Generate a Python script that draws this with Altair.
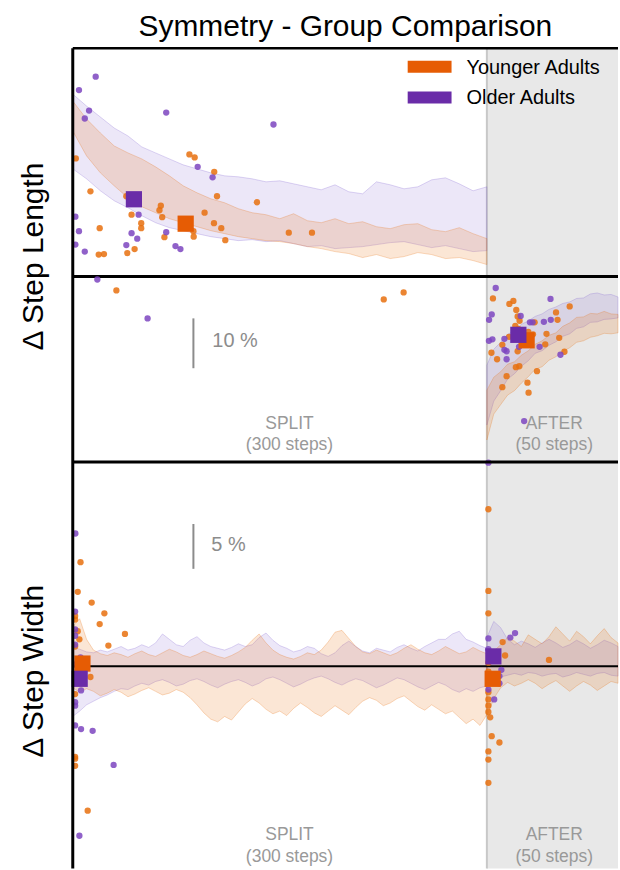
import altair as alt
import pandas as pd

FONT = "Liberation Sans"
W = 547
H_TOP = 415
H_BOT = 408

YOUNG = "Younger Adults"
OLD = "Older Adults"
BAND_COLOR = {YOUNG: "#e66905", OLD: "#7a58d0"}
BAND_OPACITY = {YOUNG: 0.17, OLD: 0.14}
DOT_COLOR = {YOUNG: "#e8700e", OLD: "#7d45c0"}
MEAN_COLOR = {YOUNG: "#e65c04", OLD: "#6a2ca8"}

# ---------------- band data (mean +/- SE, % asymmetry) ----------------
ts_steps = list(range(0, 301, 10))
ts_old_hi = [36.6, 34.2, 32.0, 29.8, 28.2, 26.0, 24.8, 23.6, 22.4, 21.6, 20.8, 20.2, 20.0, 19.6, 19.0, 19.2,
             18.6, 18.0, 17.4, 18.4, 17.0, 16.6, 19.0, 18.4, 17.6, 18.0, 19.4, 19.8, 18.6, 17.2, 18.0]
ts_old_lo = [21.6, 19.6, 17.2, 15.2, 13.8, 12.2, 10.8, 9.8, 9.2, 8.6, 8.0, 7.6, 7.2, 7.4, 7.0, 7.2,
             6.6, 6.0, 6.2, 5.6, 5.8, 6.0, 6.4, 6.8, 7.0, 6.4, 5.8, 6.2, 5.6, 5.0, 5.2]
ts_young_hi = [35.2, 31.6, 28.8, 26.2, 24.8, 23.6, 22.0, 20.2, 18.2, 16.8, 15.6, 14.8, 13.6, 12.8, 12.4, 11.6,
               12.6, 11.2, 10.8, 11.6, 10.6, 11.0, 10.0, 9.6, 10.4, 10.6, 9.4, 9.0, 9.8, 8.6, 7.6]
ts_young_lo = [29.2, 24.2, 20.8, 18.2, 15.8, 14.0, 12.8, 11.6, 10.8, 10.0, 9.2, 8.6, 8.0, 7.6, 7.2, 7.0,
               6.6, 6.0, 5.6, 5.0, 4.6, 3.8, 4.4, 3.6, 4.0, 4.8, 4.4, 3.6, 3.8, 3.2, 2.4]

ta_steps = list(range(300, 396, 5))
ta_old_hi = [-17.8, -14.6, -13.2, -11.6, -10.9, -9.6, -8.9, -8.0, -7.5, -6.6,
             -6.1, -5.4, -5.1, -4.4, -4.3, -3.5, -3.3, -3.7, -3.6, -4.1]
ta_old_lo = [-29.8, -25.0, -22.9, -20.6, -19.5, -18.0, -16.9, -15.4, -14.9, -13.8,
             -13.1, -12.0, -11.5, -10.4, -10.1, -9.2, -9.1, -8.6, -8.5, -8.3]
ta_young_hi = [-22.8, -20.2, -19.1, -17.6, -17.1, -15.8, -14.9, -13.6, -12.9, -11.8,
               -11.3, -10.0, -9.3, -8.2, -8.1, -7.4, -7.5, -7.0, -7.5, -7.6]
ta_young_lo = [-32.8, -27.6, -25.7, -23.8, -22.9, -21.4, -20.1, -18.6, -18.1, -16.8,
               -16.1, -15.0, -14.3, -13.2, -12.9, -12.2, -11.9, -11.4, -11.5, -11.3]

bs_steps = list(range(0, 301, 5))
bs_old_hi = [2.1, 1.9, 1.6, 1.5, 1.8, 1.6, 1.9, 2.2, 1.8, 2.0,
             2.4, 2.1, 2.6, 3.6, 3.0, 2.4, 2.2, 2.9, 3.3, 2.6,
             2.2, 2.0, 1.8, 2.1, 2.5, 2.2, 2.4, 3.2, 3.7, 2.9,
             2.3, 2.0, 1.6, 1.8, 2.2, 2.0, 1.4, 1.1, 1.5, 2.3,
             2.8, 2.2, 1.7, 1.5, 2.0, 1.8, 1.6, 2.1, 2.4, 2.0,
             1.7, 2.2, 2.6, 3.0, 3.0, 3.6, 3.9, 3.0, 2.7, 2.3,
             2.0]
bs_old_lo = [-5.6, -5.0, -4.3, -3.9, -3.5, -3.2, -2.8, -2.5, -2.6, -2.2,
             -1.9, -2.1, -1.7, -1.5, -1.8, -2.2, -2.0, -1.6, -1.4, -1.7,
             -2.1, -2.4, -2.0, -1.7, -1.5, -1.8, -2.2, -1.9, -1.4, -1.2,
             -1.5, -1.9, -2.3, -2.0, -1.6, -1.3, -1.1, -1.4, -1.8, -2.1,
             -1.7, -1.4, -1.6, -2.0, -2.4, -2.1, -1.7, -1.3, -1.5, -1.9,
             -2.3, -2.6, -2.2, -1.8, -2.1, -2.6, -2.9, -2.5, -2.8, -2.4,
             -2.2]
bs_young_hi = [4.4, 5.3, 3.0, 1.8, 1.4, 1.2, 1.5, 1.3, 1.0, 1.4,
               1.7, 1.3, 1.1, 1.5, 1.9, 1.6, 1.2, 1.0, 1.3, 1.7,
               1.4, 1.1, 0.9, 1.2, 1.6, 2.1, 2.9, 3.6, 2.6, 1.8,
               1.3, 1.0, 0.8, 1.1, 1.5, 1.3, 1.8, 2.7, 3.8, 4.0,
               3.1, 2.2, 1.6, 1.4, 1.8, 1.5, 1.2, 1.5, 2.0, 2.4,
               1.9, 1.5, 1.3, 1.7, 2.2, 1.8, 1.4, 1.6, 2.1, 1.7,
               1.4]
bs_young_lo = [-2.4, -2.9, -2.5, -2.8, -3.3, -3.0, -2.6, -2.9, -3.4, -3.1,
               -2.7, -2.4, -2.8, -3.2, -3.0, -2.6, -2.9, -3.5, -4.3, -5.2,
               -5.9, -6.2, -5.6, -6.0, -5.1, -4.2, -3.6, -4.1, -4.8, -5.3,
               -5.0, -5.5, -4.7, -4.1, -4.6, -5.2, -5.6, -5.0, -4.4, -4.9,
               -5.4, -4.6, -3.9, -3.5, -3.8, -4.4, -4.1, -3.6, -3.3, -3.9,
               -4.5, -4.9, -4.3, -4.8, -5.3, -5.0, -5.7, -6.4, -5.9, -6.6,
               -5.4]

ba_steps = list(range(300, 396, 5))
ba_old_hi = [3.2, 5.0, 4.3, 3.0, 2.4, 2.8, 2.5, 2.1, 2.6, 3.0, 2.6, 2.1, 2.4, 2.9, 2.5, 2.0, 2.4, 2.9, 2.6, 2.2]
ba_old_lo = [-2.6, -1.8, -1.2, -1.0, -0.8, -1.0, -0.7, -0.8, -1.1, -0.9,
             -0.8, -1.2, -1.0, -0.7, -0.9, -1.1, -0.8, -0.7, -1.0, -1.1]
ba_young_hi = [2.0, 1.7, 2.4, 3.2, 2.8, 2.2, 3.5, 3.0, 2.5, 3.3, 4.4, 3.6, 2.8, 3.9, 3.3, 2.5, 3.4, 4.2, 3.2, 2.6]
ba_young_lo = [-5.6, -3.6, -2.4, -1.8, -2.2, -1.9, -1.5, -1.9, -2.5, -2.0,
               -1.6, -2.2, -2.8, -2.2, -1.7, -2.1, -2.7, -2.2, -1.7, -1.9]

# ---------------- individual participants ----------------
top_young_x = [2.2, 12.8, 19.5, 18.8, 22.6, 38.8, 42.6, 49.6, 49.6, 39.5, 44.8, 62.8, 63.8, 64.8, 66.4,
               84.5, 88.3, 102.5, 104.5, 95.5, 102.3, 107.6, 110.5, 87.4, 87.6, 133.4, 156.5, 173.3,
               31.6, 225.3, 239.7,
               304.4, 316.3, 319.2, 321.3, 322.3, 323.7, 360.0, 350.1, 351.2, 334.6, 320.6, 322.8, 333.4,
               343.2, 330.0, 352.4, 316.1, 311.2, 342.3, 356.2, 322.3, 303.3, 307.4, 323.5, 321.0, 336.3,
               314.3, 311.2, 329.4, 330.2]
top_young_y = [23.7, 17.1, 9.7, 4.4, 4.5, 16.1, 12.4, 10.7, 9.7, 4.7, 5.5, 13.3, 14.2, 11.9, 7.9,
               24.5, 23.9, 21.0, 16.1, 12.8, 10.7, 9.7, 7.3, 9.1, 8.0, 14.9, 8.8, 8.8,
               -2.8, -4.6, -3.2,
               -4.4, -5.5, -4.9, -6.7, -8.0, -8.9, -6.0, -7.2, -8.7, -9.2, -9.9, -10.5, -11.6,
               -11.5, -11.1, -12.3, -12.1, -13.7, -13.6, -15.1, -15.0, -15.3, -16.6, -18.0, -18.2, -19.0,
               -20.0, -22.2, -21.3, -23.3]
top_old_x = [16.6, 4.5, 11.8, 8.7, 67.7, 145.4, 90.5, 101.3, 47.7, 1.9, 4.5, 42.6, 46.7, 67.7, 1.9,
             8.7, 38.8, 74.4, 78.0, 17.8, 54.2,
             306.4, 346.1, 303.5, 301.6, 324.5, 331.2, 333.1, 341.3, 346.3, 304.0, 301.5, 312.7,
             323.3, 338.2, 312.7, 314.3, 314.3, 353.3, 327.0]
top_old_y = [40.1, 37.4, 33.3, 31.7, 32.9, 30.5, 22.0, 19.9, 12.4, 12.0, 9.1, 8.7, 7.6, 8.9, 6.4,
             5.0, 6.3, 6.1, 5.5, -0.6, -8.4,
             -2.3, -4.5, -7.6, -8.7, -7.9, -9.2, -9.2, -9.1, -8.7, -12.6, -12.9, -12.5,
             -14.1, -14.1, -14.7, -15.0, -16.6, -15.7, -29.0]

bot_young_x = [5.6, 3.6, 13.7, 22.9, 19.5, 37.8, 25.8, 1.7, 1.7, 3.6, 4.8, 1.7, 12.8, 1.7, 1.7, 1.7, 1.7, 10.8,
               301.1, 301.1, 301.1, 311.4, 313.2, 345.0, 301.1, 301.1, 301.1, 301.1, 301.1, 301.1,
               302.4, 303.5, 309.1, 301.1, 301.1, 301.1]
bot_young_y = [11.6, 8.3, 7.1, 5.9, 4.7, 3.6, 2.3, 5.6, 5.2, 3.9, 3.0, 2.2, -1.2, -3.1, -10.1, -10.3, -11.1, -16.1,
               17.5, 8.4, 5.9, 2.7, 1.2, 0.7, 0.4, -0.6, -2.9, -3.7, -4.4, -5.1,
               -5.7, -7.8, -8.5, -9.5, -10.4, -13.0]
bot_old_x = [1.9, 1.7, 1.7, 1.7, 1.7, 5.6, 1.7, 6.0, 1.7, 1.7, 1.7, 6.0, 14.4, 29.6, 4.8,
             301.1, 301.1, 317.0, 320.4, 310.5, 309.1, 309.1, 301.1, 301.1, 305.3, 301.1]
bot_old_y = [14.8, 6.1, 4.1, 3.4, 2.4, 1.0, 0.2, -2.7, -4.0, -4.4, -6.6, -7.0, -7.2, -11.0, -18.9,
             22.7, 3.1, 3.2, 3.7, -0.4, -1.1, -1.9, -1.6, -2.6, -3.7, 1.9]

# ---------------- group means ----------------
top_mean_young_x = [81.8, 328.8]
top_mean_young_y = [10.6, -12.8]
top_mean_old_x = [44.3, 322.8]
top_mean_old_y = [15.5, -11.7]
bot_mean_young_x = [7.0, 304.2]
bot_mean_young_y = [0.3, -1.4]
bot_mean_old_x = [5.0, 304.7]
bot_mean_old_y = [-1.4, 1.1]

# phase boundaries (steps)
SPLIT_END = 300
AFTER_END = 395

x_scale = alt.Scale(domain=[0, AFTER_END], nice=False, zero=False)
y_top = alt.Scale(domain=[-37.2, 45.8], nice=False, zero=False)
y_bot = alt.Scale(domain=[-22.56, 22.78], nice=False, zero=False)

one = pd.DataFrame({"k": [0]})
GREY_TXT = "#999999"


def X(field):
    return alt.X(field, type="quantitative", scale=x_scale, axis=None)


def Y(field, ys):
    return alt.Y(field, type="quantitative", scale=ys, axis=None)


def band(steps, lo, hi, group, ys):
    df = pd.DataFrame({"step": steps, "lo": lo, "hi": hi})
    c = BAND_COLOR[group]
    return alt.Chart(df).mark_area(color=c, fillOpacity=BAND_OPACITY[group], stroke=c,
                                   strokeOpacity=0.25, strokeWidth=1).encode(
        x=X("step"), y=Y("lo", ys), y2=alt.Y2("hi"))


def dots(xs, vs, group, ys):
    df = pd.DataFrame({"step": xs, "val": vs})
    return alt.Chart(df).mark_circle(size=40, color=DOT_COLOR[group], opacity=0.85).encode(
        x=X("step"), y=Y("val", ys))


def means(xs, vs, group, ys):
    df = pd.DataFrame({"step": xs, "val": vs})
    return alt.Chart(df).mark_square(size=265, color=MEAN_COLOR[group], opacity=1).encode(
        x=X("step"), y=Y("val", ys))


def labels(texts, xs, vs, size, color, ys, align="center"):
    df = pd.DataFrame({"t": texts, "step": xs, "val": vs})
    return alt.Chart(df).mark_text(font=FONT, fontSize=size, color=color,
                                   align=align, baseline="middle").encode(
        x=X("step"), y=Y("val", ys), text=alt.Text("t:N"))


def scalebar(x, v1, v2, ys):
    df = pd.DataFrame({"step": [x], "v1": [v1], "v2": [v2]})
    return alt.Chart(df).mark_rule(color="#8c8c8c", strokeWidth=2).encode(
        x=X("step"), y=Y("v1", ys), y2=alt.Y2("v2"))


def zero_line(width, ys):
    df = pd.DataFrame({"val": [0.0]})
    return alt.Chart(df).mark_rule(color="black", strokeWidth=width).encode(
        y=Y("val", ys), x=alt.value(0), x2=alt.value(W))


def after_region(h):
    df = pd.DataFrame({"s0": [SPLIT_END], "s1": [AFTER_END]})
    bg = alt.Chart(df).mark_rect(color="#e8e8e8").encode(
        x=X("s0"), x2=alt.X2("s1"), y=alt.value(0), y2=alt.value(h))
    line = alt.Chart(df).mark_rule(color="#c8c8c8", strokeWidth=2).encode(
        x=X("s0"), y=alt.value(0), y2=alt.value(h))
    return [bg, line]


def hrule(ypix, width):
    return alt.Chart(one).mark_rule(color="black", strokeWidth=width).encode(
        x=alt.value(0), x2=alt.value(W), y=alt.value(ypix))


def vrule_left(h):
    return alt.Chart(one).mark_rule(color="black", strokeWidth=3).encode(
        x=alt.value(0), y=alt.value(0), y2=alt.value(h))


def ylabel(text, ypix):
    return alt.Chart(one).mark_text(text=text, font=FONT, fontSize=30, color="black",
                                    angle=270, align="center", baseline="alphabetic").encode(
        x=alt.value(-29.5), y=alt.value(ypix))


# invisible guard fixing the canvas extent (title / label margin)
guard = alt.Chart(one).mark_rect(opacity=0).encode(
    x=alt.value(-73), x2=alt.value(W), y=alt.value(-47), y2=alt.value(H_TOP))

title = alt.Chart(one).mark_text(text="Symmetry - Group Comparison", font=FONT, fontSize=30,
                                 color="black", align="center", baseline="alphabetic").encode(
    x=alt.value(273.5), y=alt.value(-12))

leg_young_box = alt.Chart(one).mark_rect(color=MEAN_COLOR[YOUNG]).encode(
    x=alt.value(336), x2=alt.value(380), y=alt.value(12.5), y2=alt.value(24.5))
leg_old_box = alt.Chart(one).mark_rect(color=MEAN_COLOR[OLD]).encode(
    x=alt.value(336), x2=alt.value(380), y=alt.value(43.5), y2=alt.value(55.5))
leg_young_txt = alt.Chart(one).mark_text(text=YOUNG, font=FONT, fontSize=20, color="black",
                                         align="left", baseline="alphabetic").encode(
    x=alt.value(395), y=alt.value(25.5))
leg_old_txt = alt.Chart(one).mark_text(text=OLD, font=FONT, fontSize=20, color="black",
                                       align="left", baseline="alphabetic").encode(
    x=alt.value(395), y=alt.value(56))

PHASE_X = [157, 348.8]

top = alt.layer(
    guard,
    *after_region(H_TOP),
    band(ts_steps, ts_old_lo, ts_old_hi, OLD, y_top),
    band(ta_steps, ta_old_lo, ta_old_hi, OLD, y_top),
    band(ts_steps, ts_young_lo, ts_young_hi, YOUNG, y_top),
    band(ta_steps, ta_young_lo, ta_young_hi, YOUNG, y_top),
    zero_line(3, y_top),
    dots(top_young_x, top_young_y, YOUNG, y_top),
    dots(top_old_x, top_old_y, OLD, y_top),
    means(top_mean_young_x, top_mean_young_y, YOUNG, y_top),
    means(top_mean_old_x, top_mean_old_y, OLD, y_top),
    scalebar(87.4, -8.4, -18.4, y_top),
    labels(["10 %"], [101.1], [-12.9], 20, "#8c8c8c", y_top, "left"),
    labels(["SPLIT", "AFTER"], PHASE_X, [-29.6, -29.6], 17.5, GREY_TXT, y_top),
    labels(["(300 steps)", "(50 steps)"], PHASE_X, [-33.8, -33.8], 17.5, GREY_TXT, y_top),
    vrule_left(H_TOP),
    hrule(0, 2.5),
    title,
    ylabel("Δ Step Length", 209),
    leg_young_box, leg_old_box, leg_young_txt, leg_old_txt,
).properties(width=W, height=H_TOP)

bot = alt.layer(
    *after_region(H_BOT),
    band(bs_steps, bs_old_lo, bs_old_hi, OLD, y_bot),
    band(ba_steps, ba_old_lo, ba_old_hi, OLD, y_bot),
    band(bs_steps, bs_young_lo, bs_young_hi, YOUNG, y_bot),
    band(ba_steps, ba_young_lo, ba_young_hi, YOUNG, y_bot),
    zero_line(2, y_bot),
    dots(bot_young_x, bot_young_y, YOUNG, y_bot),
    dots(bot_old_x, bot_old_y, OLD, y_bot),
    means(bot_mean_young_x, bot_mean_young_y, YOUNG, y_bot),
    means(bot_mean_old_x, bot_mean_old_y, OLD, y_bot),
    scalebar(87.4, 15.86, 10.86, y_bot),
    labels(["5 %"], [100.4], [13.56], 20, "#8c8c8c", y_bot, "left"),
    labels(["SPLIT", "AFTER"], PHASE_X, [-18.86, -18.86], 17.5, GREY_TXT, y_bot),
    labels(["(300 steps)", "(50 steps)"], PHASE_X, [-21.3, -21.3], 17.5, GREY_TXT, y_bot),
    vrule_left(H_BOT),
    hrule(0, 3),
    ylabel("Δ Step Width", 210),
).properties(width=W, height=H_BOT)

chart = alt.vconcat(top, bot, spacing=0, bounds="flush").properties(
    padding=0,
    autosize=alt.AutoSizeParams(type="pad"),
    background="white",
).configure_view(stroke=None)

chart.save("out.html", embed_options={"renderer": "svg", "actions": False})
